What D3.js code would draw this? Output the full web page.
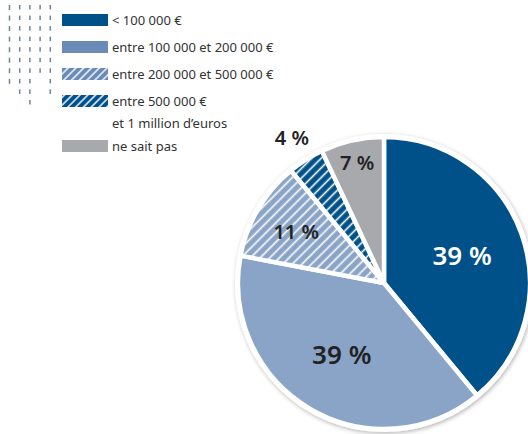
<!DOCTYPE html>
<html>
<head>
<meta charset="utf-8">
<script src="https://cdn.jsdelivr.net/npm/d3@7"></script>
<style>
  html, body { margin: 0; padding: 0; background: #fff; }
  svg { display: block; }
  text { font-family: "Noto Sans", "Open Sans", sans-serif; }
</style>
</head>
<body>
<svg id="chart" width="528" height="434"></svg>
<script>
// Répartition par tranche de montant
const categories = [
  "< 100 000 €",
  "entre 100 000 et 200 000 €",
  "entre 200 000 et 500 000 €",
  "entre 500 000 €\net 1 million d’euros",
  "ne sait pas"
];
const values = [39, 39, 11, 4, 7];
const labels = ["39 %", "39 %", "11 %", "4 %", "7 %"];

// Decorative tick grid: number of ticks in each column
const tickColumns = [8, 9, 10, 7, 9];

// Styling per slice
const fills = ["#00518a", "#8aa4c8", "hatchLight", "hatchDark", "#a7a9ac"];
const legendFills = ["#00518a", "#6a8ab7", "hatchLightL", "hatchDarkL", "#a7a9ac"];
const labelColors = ["#ffffff", "#222222", "#222222", "#222222", "#222222"];
const labelSizes = [26, 26, 20, 20, 20];
const labelRadius = [83, 83, 102, 172, 123];

const svg = d3.select("#chart");
const defs = svg.append("defs");

function hatch(id, base, spacing, width) {
  const p = defs.append("pattern")
    .attr("id", id)
    .attr("patternUnits", "userSpaceOnUse")
    .attr("width", spacing).attr("height", spacing)
    .attr("patternTransform", "rotate(45)");
  p.append("rect").attr("width", spacing).attr("height", spacing).attr("fill", base);
  p.append("line")
    .attr("x1", spacing / 2).attr("x2", spacing / 2)
    .attr("y1", 0).attr("y2", spacing)
    .attr("stroke", "#fff").attr("stroke-width", width);
}
hatch("hatchLight", "#8aa4c8", 6.8, 1.6);
hatch("hatchDark", "#00518a", 6.8, 1.6);
hatch("hatchLightL", "#6a8ab7", 5.5, 1.4);
hatch("hatchDarkL", "#00518a", 5.5, 1.4);

const shadow = defs.append("filter").attr("id", "shadow")
  .attr("x", "-20%").attr("y", "-20%").attr("width", "140%").attr("height", "140%");
shadow.append("feDropShadow")
  .attr("dx", 1).attr("dy", 1.5).attr("stdDeviation", 2)
  .attr("flood-color", "#000").attr("flood-opacity", 0.3);

const paint = f => f.startsWith("#") ? f : `url(#${f})`;

// Tick grid, top left
const gx = d3.scaleLinear().domain([0, 1]).range([9.5, 19.7]);
const gy = d3.scaleLinear().domain([0, 1]).range([5, 15.55]);
const grid = svg.append("g");
tickColumns.forEach((n, c) => {
  grid.selectAll(null).data(d3.range(n)).join("rect")
    .attr("x", gx(c) - 0.75)
    .attr("y", r => gy(r))
    .attr("width", 1.5)
    .attr("height", c === 0 ? 5 : 4.5)
    .attr("fill", "#6f8397");
});

// Legend
const legendTop = [14, 41, 68, 95, 140];
const legend = svg.append("g");
categories.forEach((name, i) => {
  legend.append("rect")
    .attr("x", 62).attr("y", legendTop[i])
    .attr("width", 46).attr("height", 12)
    .attr("fill", paint(legendFills[i]));
  const t = legend.append("text")
    .attr("x", 112).attr("y", legendTop[i] + 11)
    .attr("font-size", 13)
    .attr("fill", "#333");
  name.split("\n").forEach((line, k) => {
    t.append("tspan").attr("x", 112).attr("dy", k === 0 ? 0 : 22).text(line);
  });
});

// Pie
const cx = 384, cy = 283, R = 146;
const pie = d3.pie().sort(null).value(d => d)(values);
const arc = d3.arc().innerRadius(0).outerRadius(R);

const g = svg.append("g").attr("transform", `translate(${cx},${cy})`);
g.append("circle").attr("r", R + 3).attr("fill", "#fff").attr("filter", "url(#shadow)");
g.selectAll("path.slice").data(pie).join("path")
  .attr("class", "slice")
  .attr("d", arc)
  .attr("fill", (d, i) => paint(fills[i]))
  .attr("stroke", "#fff")
  .attr("stroke-width", 4.5)
  .attr("stroke-linejoin", "round");

g.selectAll("text.lab").data(pie).join("text")
  .attr("class", "lab")
  .attr("transform", (d, i) => {
    const c = d3.arc().innerRadius(labelRadius[i]).outerRadius(labelRadius[i]).centroid(d);
    return `translate(${c[0]},${c[1]})`;
  })
  .attr("text-anchor", "middle")
  .attr("dominant-baseline", "central")
  .attr("font-size", (d, i) => labelSizes[i])
  .attr("font-weight", 600)
  .attr("fill", (d, i) => labelColors[i])
  .text((d, i) => labels[i]);
</script>
</body>
</html>
